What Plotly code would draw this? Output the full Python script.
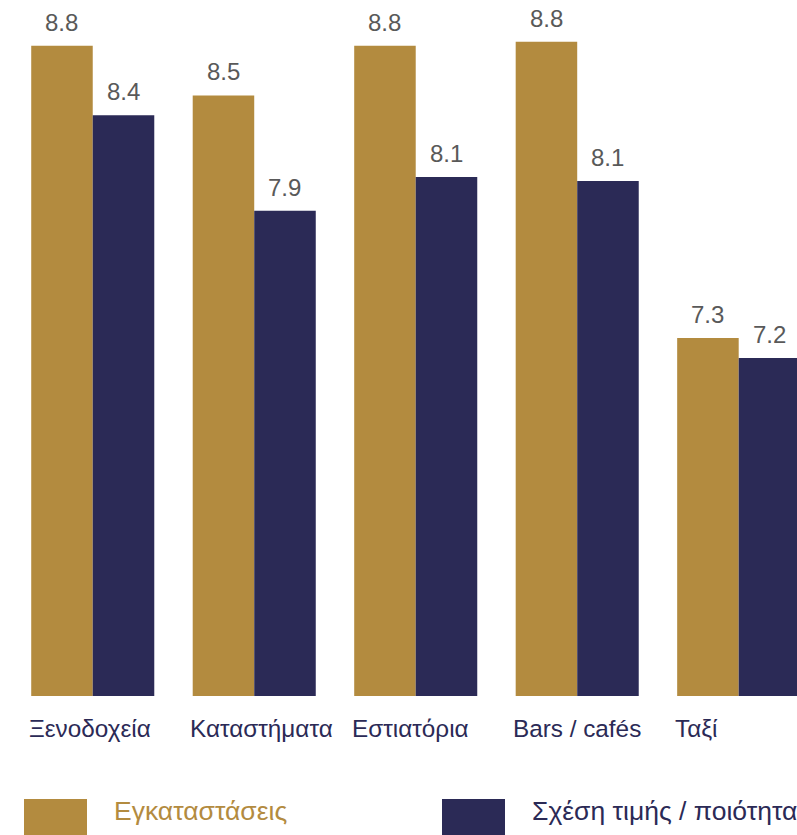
import plotly.graph_objects as go

categories = ["Ξενοδοχεία", "Καταστήματα", "Εστιατόρια", "Bars / cafés", "Ταξί"]
facilities = [8.77, 8.52, 8.77, 8.79, 7.30]
value_for_money = [8.42, 7.94, 8.11, 8.09, 7.20]
series_names = ["Εγκαταστάσεις", "Σχέση τιμής / ποιότητα"]

GOLD = "#B38B3F"
NAVY = "#2B2A56"
GREY = "#595959"
FONT = "Liberation Sans, Arial, sans-serif"

fig = go.Figure()
annotations = []
for name, vals, col, shift in [(series_names[0], facilities, GOLD, -30.75),
                               (series_names[1], value_for_money, NAVY, 30.75)]:
    fig.add_trace(go.Bar(
        x=categories, y=vals, name=name, marker=dict(color=col, line=dict(width=0)),
        showlegend=False, hoverinfo="x+y+name",
    ))
    for c, v in zip(categories, vals):
        annotations.append(dict(x=c, y=v, xref="x", yref="y", xshift=shift, yshift=8,
                                xanchor="center", yanchor="bottom", showarrow=False,
                                text=f"{v:.1f}", font=dict(size=24, color=GREY, family=FONT)))

for c in categories:
    annotations.append(dict(x=c, xref="x", y=0, yref="paper", yshift=-32, xshift=-66,
                            xanchor="left", yanchor="middle", showarrow=False, text=c,
                            font=dict(size=24.3, color=NAVY, family=FONT)))

# page pixel -> paper helpers
def px_x(x):
    return (x - 12) / 785.0

def px_y(y):
    return (696 - y) / 696.0

shapes = [
    dict(type="rect", xref="paper", yref="paper", x0=px_x(24), x1=px_x(87), y0=px_y(799), y1=px_y(845),
         fillcolor=GOLD, line=dict(width=0)),
    dict(type="rect", xref="paper", yref="paper", x0=px_x(442), x1=px_x(505), y0=px_y(799), y1=px_y(845),
         fillcolor=NAVY, line=dict(width=0)),
]
annotations.append(dict(x=px_x(112), y=px_y(811), xref="paper", yref="paper", xanchor="left", yanchor="middle",
                        showarrow=False, text=series_names[0], font=dict(size=26.5, color=GOLD, family=FONT)))
annotations.append(dict(x=px_x(530), y=px_y(811), xref="paper", yref="paper", xanchor="left", yanchor="middle",
                        showarrow=False, text=series_names[1], font=dict(size=26.5, color=NAVY, family=FONT)))

fig.update_layout(
    width=797, height=835,
    margin=dict(l=12, r=0, t=0, b=139),
    paper_bgcolor="white", plot_bgcolor="white",
    barmode="group", bargap=0.238, bargroupgap=0,
    font=dict(family=FONT),
    xaxis=dict(range=[-0.5, 4.361], showticklabels=False, showgrid=False, zeroline=False, showline=False, ticks=""),
    yaxis=dict(range=[5.5, 9.0], visible=False),
    annotations=annotations, shapes=shapes,
)
fig.write_html(
    "out.html",
    config={"displayModeBar": False},
    post_script="document.body.style.margin='0';document.documentElement.style.overflow='hidden';document.body.style.overflow='hidden';",
)
